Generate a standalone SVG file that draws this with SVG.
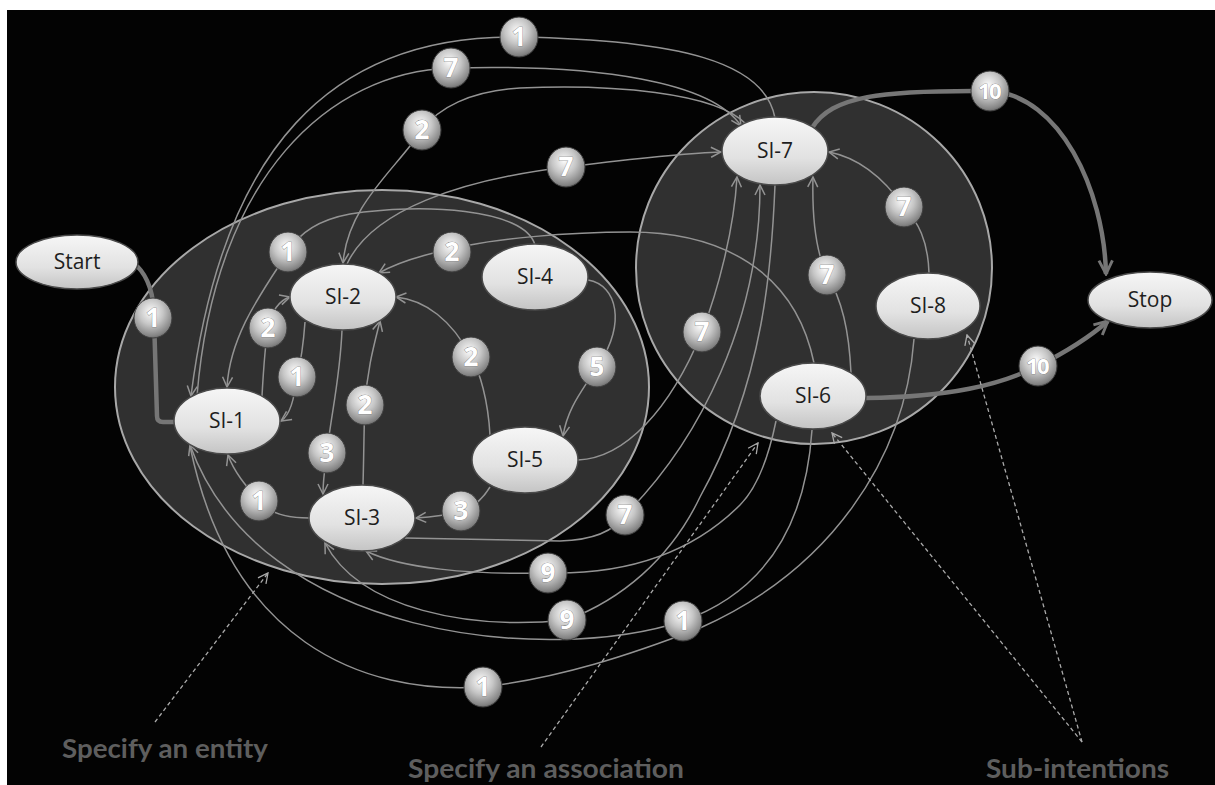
<svg xmlns="http://www.w3.org/2000/svg" width="1215" height="785" viewBox="0 0 1215 785">
<style>
.e{fill:none;stroke:#939393;stroke-width:1.5}
.t{fill:none;stroke:#767676;stroke-width:4.5}
.d{fill:none;stroke:#aaaaaa;stroke-width:1.3;stroke-dasharray:4 3}
.grp{fill:#303030;stroke:#a8a8a8;stroke-width:2}
.nd{fill:url(#ng);stroke:#4a4a4a;stroke-width:1.5}
.nl{font-family:"Open Sans","DejaVu Sans",sans-serif;font-size:21px;fill:#1e1e1e;text-anchor:middle}
.bb{fill:url(#bg);stroke:#3c3c3c;stroke-width:1}
.bl{font-family:"Open Sans","DejaVu Sans",sans-serif;font-size:26px;font-weight:bold;fill:#ffffff;text-anchor:middle;stroke:#6a6a6a;stroke-width:0.6;paint-order:stroke}
.ten{font-size:22px;letter-spacing:-1.5px}
.cap{font-family:Lato,"Open Sans",sans-serif;font-size:26px;font-weight:bold;fill:#5e5e5e}
</style>
<defs>
<linearGradient id="ng" x1="0" y1="0" x2="0" y2="1"><stop offset="0" stop-color="#f6f6f6"/><stop offset="0.6" stop-color="#e2e2e2"/><stop offset="1" stop-color="#c4c4c4"/></linearGradient>
<radialGradient id="bg" cx="0.45" cy="0.35" r="0.7"><stop offset="0" stop-color="#fbfbfb"/><stop offset="0.45" stop-color="#c6c6c6"/><stop offset="0.85" stop-color="#858585"/><stop offset="1" stop-color="#5c5c5c"/></radialGradient>
<marker id="arr" viewBox="0 0 12 12" refX="11" refY="6" markerWidth="12" markerHeight="12" markerUnits="userSpaceOnUse" orient="auto"><path d="M1,1 L11,6 L1,11" fill="none" stroke="#939393" stroke-width="1.5"/></marker>
<marker id="arrT" viewBox="0 0 16 16" refX="14" refY="8" markerWidth="18" markerHeight="18" markerUnits="userSpaceOnUse" orient="auto"><path d="M2,2 L14,8 L2,14" fill="none" stroke="#767676" stroke-width="2.6"/></marker>
<marker id="arrD" viewBox="0 0 12 12" refX="11" refY="6" markerWidth="12" markerHeight="12" markerUnits="userSpaceOnUse" orient="auto"><path d="M1,1 L11,6 L1,11" fill="none" stroke="#aaaaaa" stroke-width="1.3"/></marker>
</defs>
<rect x="0" y="0" width="1215" height="785" fill="#ffffff"/>
<rect x="7" y="10" width="1208" height="775" fill="#030303"/>
<g id="entity-area"><ellipse class="grp" cx="382" cy="387" rx="267" ry="197"/></g>
<g id="association-area"><ellipse class="grp" cx="814" cy="268" rx="178" ry="176"/></g>
<g id="connectors">
<path class="e" marker-end="url(#arr)" d="M775,118 C765,62 680,40 519,37 C330,34 222,150 191,396"/>
<path class="e" marker-end="url(#arr)" d="M197,396 C215,175 330,72 451,68 C600,64 712,82 741,126"/>
<path class="e" marker-end="url(#arr)" d="M746,124 C715,92 610,84 520,88 C470,91 438,108 422,130 C395,170 348,205 343,263"/>
<path class="e" marker-end="url(#arr)" d="M347,264 C372,210 460,180 566,167 C625,160 680,153 721,152"/>
<path class="e" marker-end="url(#arr)" d="M535,245 C525,208 420,203 350,214 C312,221 296,238 288,252 C262,292 230,335 227,387"/>
<path class="e" marker-end="url(#arr)" d="M814,363 C795,270 720,232 630,232 C560,232 495,240 470,245 C445,250 405,258 379,273"/>
<path class="e" marker-end="url(#arr)" d="M262,396 C264,360 266,340 268,328 C272,310 280,300 290,297"/>
<path class="e" marker-end="url(#arr)" d="M305,322 C303,350 300,365 297,377 C294,400 290,415 281,421"/>
<path class="e" marker-end="url(#arr)" d="M342,330 C340,380 330,420 327,453 C325,468 323,478 323,494"/>
<path class="e" marker-end="url(#arr)" d="M363,485 C364,450 364,420 365,405 C367,370 374,345 380,321"/>
<path class="e" marker-end="url(#arr)" d="M490,435 C488,400 480,372 471,357 C452,320 425,300 396,297"/>
<path class="e" marker-end="url(#arr)" d="M588,280 C618,285 625,325 600,362 C585,388 568,405 563,436"/>
<path class="e" marker-end="url(#arr)" d="M490,487 C482,500 472,508 461,511 C447,515 432,517 416,518"/>
<path class="e" marker-end="url(#arr)" d="M309,518 C285,518 268,512 259,501 C246,486 234,472 228,455"/>
<path class="e" marker-end="url(#arr)" d="M405,538 L560,541 C595,540 615,530 625,515 C700,440 760,320 760,185"/>
<path class="e" marker-end="url(#arr)" d="M578,460 C625,458 670,410 702,332 C718,290 734,230 737,177"/>
<path class="e" marker-end="url(#arr)" d="M851,373 C849,330 842,300 827,275 C815,250 812,215 813,177"/>
<path class="e" marker-end="url(#arr)" d="M929,273 C928,240 918,222 904,207 C885,180 860,158 829,152"/>
<path class="e" marker-end="url(#arr)" d="M775,185 C772,260 765,380 700,497 C670,560 620,600 567,620 C470,630 360,610 325,543"/>
<path class="e" marker-end="url(#arr)" d="M776,421 C768,460 755,490 740,505 C700,545 640,575 548,573 C470,575 400,568 366,551"/>
<path class="e" marker-end="url(#arr)" d="M812,430 C806,520 770,590 683,621 C550,665 260,640 190,445"/>
<path class="e" d="M914,339 C905,460 830,570 700,628 C630,655 560,678 483,687 C360,695 230,640 190,446"/>
<path class="t" d="M137,266 C151,280 154,300 154,318 L157,416 Q157,422 163,422 L176,422"/>
<path class="t" marker-end="url(#arrT)" d="M812,128 C832,96 880,90 990,91 C1060,95 1104,190 1106,274"/>
<path class="t" marker-end="url(#arrT)" d="M866,398 C950,397 1000,385 1038,366 C1070,350 1092,335 1108,321"/>
</g>
<g id="start"><ellipse class="nd" cx="77" cy="262" rx="61" ry="27"/><text class="nl" x="77" y="269">Start</text></g>
<g id="si-1"><ellipse class="nd" cx="227" cy="421" rx="53" ry="33"/><text class="nl" x="227" y="428">SI-1</text></g>
<g id="si-2"><ellipse class="nd" cx="343" cy="297" rx="53" ry="33"/><text class="nl" x="343" y="304">SI-2</text></g>
<g id="si-3"><ellipse class="nd" cx="362" cy="518" rx="53" ry="33"/><text class="nl" x="362" y="525">SI-3</text></g>
<g id="si-4"><ellipse class="nd" cx="535" cy="277" rx="53" ry="33"/><text class="nl" x="535" y="284">SI-4</text></g>
<g id="si-5"><ellipse class="nd" cx="525" cy="460" rx="53" ry="33"/><text class="nl" x="525" y="467">SI-5</text></g>
<g id="si-6"><ellipse class="nd" cx="813" cy="396" rx="53" ry="33"/><text class="nl" x="813" y="403">SI-6</text></g>
<g id="si-7"><ellipse class="nd" cx="775" cy="151" rx="53" ry="34"/><text class="nl" x="775" y="158">SI-7</text></g>
<g id="si-8"><ellipse class="nd" cx="928" cy="306" rx="52" ry="33"/><text class="nl" x="928" y="313">SI-8</text></g>
<g id="stop"><ellipse class="nd" cx="1150" cy="300" rx="62" ry="28"/><text class="nl" x="1150" y="307">Stop</text></g>
<g id="badges">
<g><ellipse class="bb" cx="153" cy="318" rx="19" ry="20"/><text class="bl" x="153" y="327">1</text></g>
<g><ellipse class="bb" cx="288" cy="252" rx="19" ry="20"/><text class="bl" x="288" y="261">1</text></g>
<g><ellipse class="bb" cx="452" cy="252" rx="19" ry="20"/><text class="bl" x="452" y="261">2</text></g>
<g><ellipse class="bb" cx="268" cy="328" rx="19" ry="20"/><text class="bl" x="268" y="337">2</text></g>
<g><ellipse class="bb" cx="297" cy="377" rx="19" ry="20"/><text class="bl" x="297" y="386">1</text></g>
<g><ellipse class="bb" cx="365" cy="405" rx="19" ry="20"/><text class="bl" x="365" y="414">2</text></g>
<g><ellipse class="bb" cx="327" cy="453" rx="19" ry="20"/><text class="bl" x="327" y="462">3</text></g>
<g><ellipse class="bb" cx="471" cy="357" rx="19" ry="20"/><text class="bl" x="471" y="366">2</text></g>
<g><ellipse class="bb" cx="597" cy="367" rx="19" ry="20"/><text class="bl" x="597" y="376">5</text></g>
<g><ellipse class="bb" cx="461" cy="511" rx="19" ry="20"/><text class="bl" x="461" y="520">3</text></g>
<g><ellipse class="bb" cx="259" cy="501" rx="19" ry="20"/><text class="bl" x="259" y="510">1</text></g>
<g><ellipse class="bb" cx="625" cy="515" rx="19" ry="20"/><text class="bl" x="625" y="524">7</text></g>
<g><ellipse class="bb" cx="548" cy="573" rx="19" ry="20"/><text class="bl" x="548" y="582">9</text></g>
<g><ellipse class="bb" cx="567" cy="620" rx="19" ry="20"/><text class="bl" x="567" y="629">9</text></g>
<g><ellipse class="bb" cx="683" cy="621" rx="19" ry="20"/><text class="bl" x="683" y="630">1</text></g>
<g><ellipse class="bb" cx="483" cy="687" rx="19" ry="20"/><text class="bl" x="483" y="696">1</text></g>
<g><ellipse class="bb" cx="519" cy="37" rx="19" ry="20"/><text class="bl" x="519" y="46">1</text></g>
<g><ellipse class="bb" cx="451" cy="68" rx="19" ry="20"/><text class="bl" x="451" y="77">7</text></g>
<g><ellipse class="bb" cx="422" cy="130" rx="19" ry="20"/><text class="bl" x="422" y="139">2</text></g>
<g><ellipse class="bb" cx="566" cy="167" rx="19" ry="20"/><text class="bl" x="566" y="176">7</text></g>
<g><ellipse class="bb" cx="702" cy="332" rx="19" ry="20"/><text class="bl" x="702" y="341">7</text></g>
<g><ellipse class="bb" cx="827" cy="275" rx="19" ry="20"/><text class="bl" x="827" y="284">7</text></g>
<g><ellipse class="bb" cx="904" cy="207" rx="19" ry="20"/><text class="bl" x="904" y="216">7</text></g>
<g><ellipse class="bb" cx="990" cy="91" rx="19" ry="20"/><text class="bl ten" x="989" y="99">10</text></g>
<g><ellipse class="bb" cx="1038" cy="366" rx="19" ry="20"/><text class="bl ten" x="1037" y="374">10</text></g>
</g>
<g id="annotations">
<path class="d" marker-end="url(#arrD)" d="M155,722 L268,573"/>
<path class="d" marker-end="url(#arrD)" d="M541,747 L758,443"/>
<path class="d" marker-end="url(#arrD)" d="M1082,742 L832,433"/>
<path class="d" marker-end="url(#arrD)" d="M1082,742 L967,335"/>
<text class="cap" x="62" y="758" textLength="206" lengthAdjust="spacingAndGlyphs">Specify an entity</text>
<text class="cap" x="408" y="778" textLength="276" lengthAdjust="spacingAndGlyphs">Specify an association</text>
<text class="cap" x="986" y="778" textLength="183" lengthAdjust="spacingAndGlyphs">Sub-intentions</text>
</g>
</svg>
